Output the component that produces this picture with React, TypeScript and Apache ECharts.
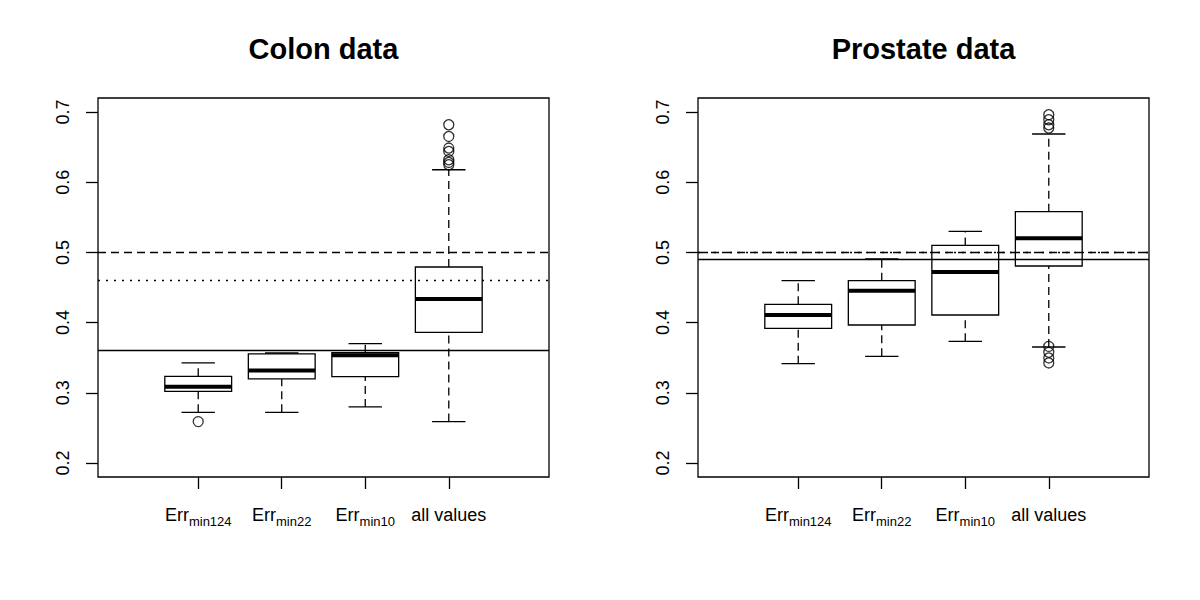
import React, { useEffect, useRef } from "react";
import * as echarts from "echarts";

// ---- data ----
const labelMain = ["Err", "Err", "Err", "all values"];
const labelSub = ["min124", "min22", "min10", ""];
const yTicks = [0.2, 0.3, 0.4, 0.5, 0.6, 0.7];
const xPositions = [1, 2, 3, 4];

// [lower whisker, Q1, median, Q3, upper whisker]
const colonStats = [
  [0.2722, 0.302, 0.3087, 0.3235, 0.3425],
  [0.2722, 0.3197, 0.3319, 0.3553, 0.3567],
  [0.2798, 0.323, 0.3533, 0.357, 0.37],
  [0.2589, 0.3861, 0.4336, 0.4792, 0.6178],
];
const colonOutliers = [
  [1, 0.2589],
  [4, 0.6819], [4, 0.6652], [4, 0.6487], [4, 0.6439], [4, 0.632], [4, 0.6282], [4, 0.6249],
];
const colonLines = { dashed: 0.5, dotted: 0.4578, solid: 0.3553 };

const prostateStats = [
  [0.3415, 0.3918, 0.4108, 0.426, 0.4597],
  [0.352, 0.3966, 0.4455, 0.4597, 0.4906],
  [0.3733, 0.4108, 0.4721, 0.51, 0.53],
  [0.3652, 0.4806, 0.52, 0.558, 0.6687],
];
const prostateOutliers = [
  [4, 0.6962], [4, 0.689], [4, 0.6819], [4, 0.6772],
  [4, 0.3661], [4, 0.3576], [4, 0.3496], [4, 0.3425],
];
const prostateLines = { dashed: 0.5, dotted: 0.5, solid: 0.4906 };

const titles = ["Colon data", "Prostate data"];

const FONT = "'Liberation Sans', Arial, Helvetica, sans-serif";
const LW = 1.3;
const DASH = [8, 5];
const DOT = [2, 6];

function renderBox(params: any, api: any) {
  const x = api.value(0);
  const lo = api.value(1), q1 = api.value(2), med = api.value(3), q3 = api.value(4), hi = api.value(5);
  const bw = 0.4, cw = 0.2;
  const c = (a: number, b: number) => api.coord([a, b]);
  const line = (p1: number[], p2: number[], style: any) => ({
    type: "line",
    shape: { x1: p1[0], y1: p1[1], x2: p2[0], y2: p2[1] },
    style: Object.assign({ stroke: "#000", lineWidth: LW, fill: null }, style),
  });
  const tl = c(x - bw, q3);
  const br = c(x + bw, q1);
  return {
    type: "group",
    children: [
      line(c(x, lo), c(x, q1), { lineDash: DASH }),
      line(c(x, q3), c(x, hi), { lineDash: DASH }),
      line(c(x - cw, lo), c(x + cw, lo), {}),
      line(c(x - cw, hi), c(x + cw, hi), {}),
      {
        type: "rect",
        shape: { x: tl[0], y: tl[1], width: br[0] - tl[0], height: br[1] - tl[1] },
        style: { stroke: "#000", lineWidth: LW, fill: "transparent" },
      },
      line(c(x - bw, med), c(x + bw, med), { lineWidth: 4 }),
    ],
  };
}

function buildPanel(idx: number, stats: number[][], outliers: number[][], lines: any) {
  const grid = { left: idx === 0 ? 98 : 698, top: 98, width: 451, height: 379, show: true, borderColor: "#000", borderWidth: LW, backgroundColor: "transparent" };
  const xAxis = {
    gridIndex: idx,
    type: "value",
    min: -0.2,
    max: 5.2,
    position: "bottom",
    splitLine: { show: false },
    axisLine: { show: false, onZero: false },
    axisTick: { show: true, inside: false, customValues: xPositions, length: 12, lineStyle: { color: "#000", width: LW } },
    axisLabel: {
      show: true,
      customValues: xPositions,
      margin: 29,
      color: "#000",
      fontFamily: FONT,
      formatter: (v: number) => {
        const i = Math.round(v) - 1;
        if (i < 0 || i >= labelMain.length) return "";
        return labelSub[i] ? `{main|${labelMain[i]}}{sub|${labelSub[i]}}` : `{main|${labelMain[i]}}`;
      },
      rich: {
        main: { fontSize: 18, fontFamily: FONT, color: "#000", lineHeight: 18, verticalAlign: "top" },
        sub: { fontSize: 13, fontFamily: FONT, color: "#000", lineHeight: 13, padding: [9, 0, 0, 0], verticalAlign: "top" },
      },
    },
  };
  const yAxis = {
    gridIndex: idx,
    type: "value",
    min: 0.18,
    max: 0.72,
    position: "left",
    splitLine: { show: false },
    axisLine: { show: false, onZero: false },
    axisTick: { show: true, inside: false, customValues: yTicks, length: 12, lineStyle: { color: "#000", width: LW } },
    axisLabel: {
      show: true,
      customValues: yTicks,
      rotate: 90,
      margin: 26,
      fontSize: 18,
      color: "#000",
      fontFamily: FONT,
      formatter: (v: number) => v.toFixed(1),
    },
  };
  const markData: any[] = [
    { yAxis: lines.dashed, lineStyle: { type: DASH, color: "#000", width: LW } },
    { yAxis: lines.dotted, lineStyle: { type: DOT, color: "#000", width: LW } },
    { yAxis: lines.solid, lineStyle: { type: "solid", color: "#000", width: LW } },
  ];
  const series = [
    {
      type: "custom",
      xAxisIndex: idx,
      yAxisIndex: idx,
      renderItem: renderBox,
      encode: { x: 0, y: [1, 2, 3, 4, 5] },
      data: stats.map((s, i) => [xPositions[i], ...s]),
      silent: true,
    },
    {
      type: "scatter",
      xAxisIndex: idx,
      yAxisIndex: idx,
      symbol: "circle",
      symbolSize: 10,
      itemStyle: { color: "transparent", borderColor: "#000", borderWidth: LW },
      data: outliers,
      silent: true,
      markLine: {
        silent: true,
        symbol: "none",
        label: { show: false },
        data: markData,
      },
    },
  ];
  return { grid, xAxis, yAxis, series };
}

export default function App() {
  const ref = useRef<HTMLDivElement>(null);
  useEffect(() => {
    if (!ref.current) return;
    const chart = echarts.init(ref.current, null, { renderer: "svg" });
    const p0 = buildPanel(0, colonStats, colonOutliers, colonLines);
    const p1 = buildPanel(1, prostateStats, prostateOutliers, prostateLines);
    chart.setOption({
      animation: false,
      backgroundColor: "#fff",
      grid: [p0.grid, p1.grid],
      xAxis: [p0.xAxis, p1.xAxis],
      yAxis: [p0.yAxis, p1.yAxis],
      series: [...p0.series, ...p1.series],
      graphic: [0, 1].map((i) => ({
        type: "text",
        x: (i === 0 ? 98 : 698) + 225.5,
        y: 49,
        style: {
          text: titles[i],
          fontSize: 29,
          fontWeight: "bold",
          fontFamily: FONT,
          fill: "#000",
          textAlign: "center",
          textVerticalAlign: "middle",
        },
      })),
    });
    return () => chart.dispose();
  }, []);
  return (
    <div
      ref={ref}
      style={{ position: "absolute", left: 0, top: 0, width: 1200, height: 600, background: "#fff" }}
    />
  );
}
